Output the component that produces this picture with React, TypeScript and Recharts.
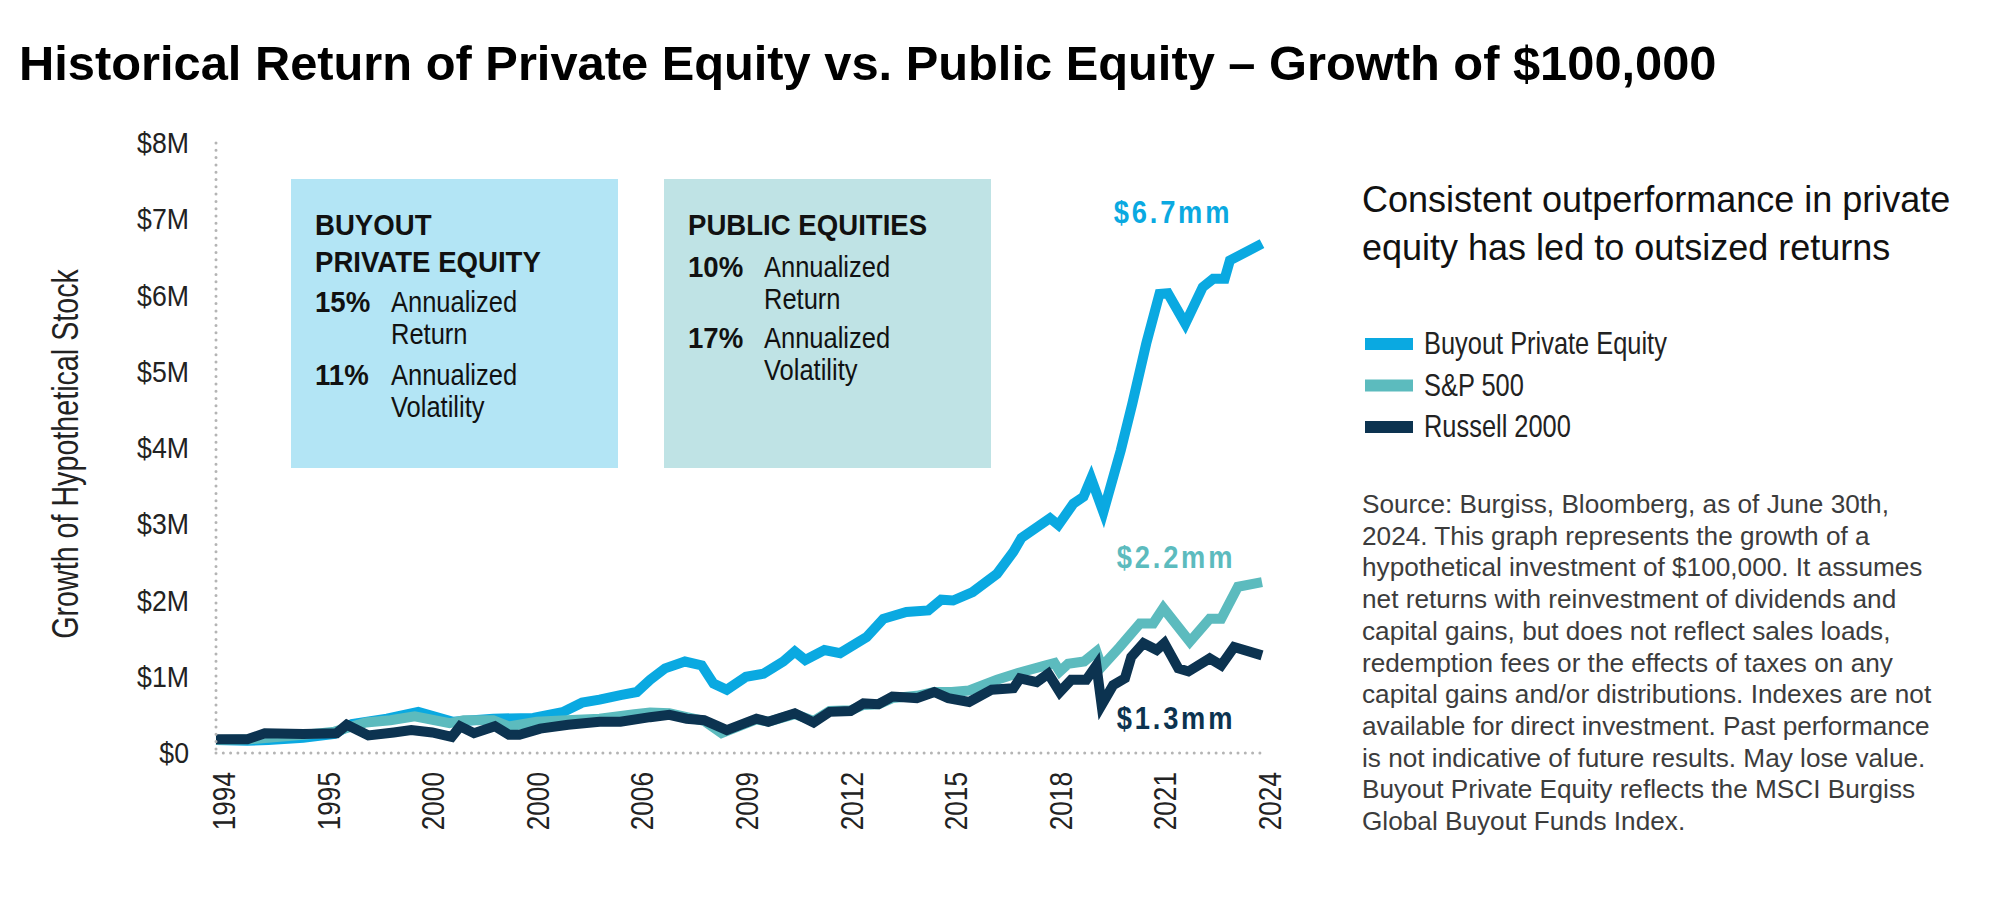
import React from 'react';
import { LineChart, Line, XAxis, YAxis, LabelList } from 'recharts';

// Growth of $100,000, in $ millions, read as [year, value]
const buyoutPE: [number, number][] = [
  [1994, 0.17], [1994.9, 0.16], [1995.5, 0.17], [1996.5, 0.2], [1997.4, 0.25],
  [1997.9, 0.38], [1998.9, 0.45], [1999.8, 0.54], [2000.8, 0.41], [2001.95, 0.45],
  [2003.1, 0.46], [2003.97, 0.54], [2004.5, 0.66], [2005.0, 0.7], [2005.6, 0.76],
  [2006.07, 0.8], [2006.45, 0.96], [2006.88, 1.11], [2007.45, 1.2], [2007.93, 1.15],
  [2008.27, 0.91], [2008.65, 0.83], [2009.2, 1.0], [2009.7, 1.04], [2010.27, 1.2],
  [2010.6, 1.33], [2010.9, 1.22], [2011.45, 1.35], [2011.9, 1.31], [2012.66, 1.52],
  [2013.14, 1.76], [2013.8, 1.85], [2014.43, 1.87], [2014.8, 2.01], [2015.14, 2.0],
  [2015.7, 2.11], [2016.4, 2.35], [2016.87, 2.64], [2017.1, 2.82], [2017.92, 3.08],
  [2018.16, 2.99], [2018.59, 3.27], [2018.88, 3.36], [2019.1, 3.6], [2019.45, 3.16],
  [2019.95, 3.97], [2020.28, 4.58], [2020.68, 5.37], [2021.06, 6.02], [2021.3, 6.03],
  [2021.8, 5.63], [2022.3, 6.11], [2022.6, 6.22], [2022.93, 6.22], [2023.08, 6.46],
  [2024, 6.68],
];

const sp500: [number, number][] = [
  [1994, 0.17], [1995.0, 0.18], [1996.0, 0.22], [1997.0, 0.26], [1997.4, 0.28],
  [1998.3, 0.4], [1999.0, 0.43], [1999.7, 0.48], [2000.7, 0.39], [2001.1, 0.43],
  [2001.95, 0.43], [2002.4, 0.35], [2003.2, 0.41], [2004.05, 0.43], [2005.0, 0.45],
  [2006.0, 0.51], [2006.45, 0.53], [2007.0, 0.52], [2007.5, 0.47], [2008.0, 0.42],
  [2008.5, 0.26], [2009.5, 0.44], [2009.84, 0.41], [2010.6, 0.51], [2011.14, 0.42],
  [2011.6, 0.55], [2012.2, 0.56], [2012.57, 0.63], [2013.0, 0.64], [2013.4, 0.72],
  [2014.1, 0.75], [2014.6, 0.8], [2015.1, 0.8], [2015.6, 0.82], [2016.4, 0.96],
  [2017.0, 1.05], [2017.8, 1.15], [2018.05, 1.18], [2018.2, 1.07], [2018.44, 1.17],
  [2018.9, 1.2], [2019.25, 1.33], [2019.4, 1.13], [2019.92, 1.39], [2020.5, 1.7],
  [2020.88, 1.7], [2021.17, 1.9], [2021.93, 1.46], [2022.5, 1.76], [2022.83, 1.76],
  [2023.31, 2.18], [2024, 2.24],
];

const russell2000: [number, number][] = [
  [1994, 0.18], [1994.9, 0.18], [1995.4, 0.26], [1996.5, 0.25], [1997.46, 0.26],
  [1997.75, 0.37], [1998.37, 0.23], [1999.1, 0.27], [1999.6, 0.3], [2000.2, 0.27],
  [2000.76, 0.21], [2001.0, 0.35], [2001.4, 0.26], [2002.0, 0.35], [2002.4, 0.24],
  [2002.7, 0.24], [2003.3, 0.32], [2004.1, 0.37], [2005.0, 0.41], [2005.6, 0.41],
  [2006.45, 0.47], [2007.0, 0.5], [2007.5, 0.45], [2008.0, 0.43], [2008.65, 0.3],
  [2009.5, 0.45], [2009.84, 0.41], [2010.6, 0.52], [2011.14, 0.4], [2011.6, 0.54],
  [2012.2, 0.55], [2012.57, 0.65], [2013.0, 0.64], [2013.4, 0.74], [2014.1, 0.72],
  [2014.6, 0.8], [2015.0, 0.72], [2015.6, 0.67], [2016.25, 0.83], [2016.87, 0.85],
  [2017.06, 0.98], [2017.54, 0.93], [2017.87, 1.04], [2018.2, 0.8], [2018.53, 0.96],
  [2018.96, 0.96], [2019.25, 1.15], [2019.4, 0.63], [2019.73, 0.89], [2020.07, 0.98],
  [2020.25, 1.26], [2020.6, 1.44], [2020.98, 1.35], [2021.2, 1.44], [2021.6, 1.11],
  [2021.89, 1.07], [2022.5, 1.24], [2022.83, 1.15], [2023.2, 1.39], [2024, 1.28],
];

const xTicks = [1994, 1997, 2000, 2003, 2006, 2009, 2012, 2015, 2018, 2021, 2024];
const xTickLabels = ['1994', '1995', '2000', '2000', '2006', '2009', '2012', '2015', '2018', '2021', '2024'];
const yTicks = [0, 1, 2, 3, 4, 5, 6, 7, 8];

const seriesNames = ['Buyout Private Equity', 'S&P 500', 'Russell 2000'];

const sourceLines = [
  'Source: Burgiss, Bloomberg, as of June 30th,',
  '2024. This graph represents the growth of a',
  'hypothetical investment of $100,000. It assumes',
  'net returns with reinvestment of dividends and',
  'capital gains, but does not reflect sales loads,',
  'redemption fees or the effects of taxes on any',
  'capital gains and/or distributions. Indexes are not',
  'available for direct investment. Past performance',
  'is not indicative of future results. May lose value.',
  'Buyout Private Equity reflects the MSCI Burgiss',
  'Global Buyout Funds Index.',
];

const SANS = "'Liberation Sans', Arial, Helvetica, sans-serif";

const COLORS = ['#0aa9e1', '#5cbbbe', '#0c3350'];
const dotted = { stroke: '#b4b4b4', strokeWidth: 3, strokeDasharray: '0 7.3', strokeLinecap: 'round' as const };

const toRows = (pts: [number, number][]) => pts.map(([year, value]) => ({ year, value }));

// condensed text: no narrow face is installed, so squeeze Liberation Sans horizontally
const NText = ({ x, y, size, scale = 0.82, weight = 400, anchor = 'start', fill = '#222', rotate = 0, ls = 0, children }: any) => (
  <g transform={`translate(${x},${y})${rotate ? ` rotate(${rotate})` : ''} scale(${scale},1)`}>
    <text x={0} y={0} fontFamily={SANS} fontSize={size} fontWeight={weight} textAnchor={anchor}
      fill={fill} letterSpacing={ls}>
      {children}
    </text>
  </g>
);

// end-of-line value callout, drawn only on the last point
const endLabel = (color: string, dx: number, dy: number, last: number) => (props: any) => {
  if (props.index !== last) return null;
  return (
    <NText x={props.x + dx} y={props.y + dy} size={31} scale={0.88} weight={700} anchor="middle" fill={color} ls={3.2}>
      {`$${Number(props.value).toFixed(1)}mm`}
    </NText>
  );
};

const XTick = ({ x, y, payload }: any) => (
  <NText x={x + 19} y={y + 19} rotate={-90} size={32} anchor="end" fill="#222">
    {xTickLabels[xTicks.indexOf(payload.value)]}
  </NText>
);

const YTick = ({ x, y, payload }: any) => (
  <NText x={x} y={y + 10} size={29} scale={0.92} anchor="end" fill="#222">
    {payload.value === 0 ? '$0' : `$${payload.value}M`}
  </NText>
);

const StatBox = ({ x, fill, heading, stats, y0, gap }: any) => (
  <g>
    <rect x={x} y={179} width={327} height={289} fill={fill} />
    {heading.map((h: string, i: number) => (
      <NText key={h} x={x + 24} y={235 + i * 37} size={30} scale={0.92} weight={700} fill="#111">{h}</NText>
    ))}
    {stats.map((s: string[], i: number) => (
      <g key={s[0]}>
        <NText x={x + 24} y={y0 + i * gap} size={30} scale={0.92} weight={700} fill="#111">{s[0]}</NText>
        <NText x={x + 100} y={y0 + i * gap} size={30} scale={0.85} fill="#111">{s[1]}</NText>
        <NText x={x + 100} y={y0 + i * gap + 32} size={30} scale={0.85} fill="#111">{s[2]}</NText>
      </g>
    ))}
  </g>
);

const App: React.FC = () => {
  const pe = toRows(buyoutPE);
  const sp = toRows(sp500);
  const ru = toRows(russell2000);

  return (
    <div style={{ position: 'absolute', left: 0, top: 0, width: 2000, height: 909, background: '#fff' }}>
      <svg width={2000} height={909} style={{ position: 'absolute', left: 0, top: 0 }}>
        <text x={19} y={80} fontFamily={SANS} fontWeight={700} fontSize={48.8} fill="#000">
          Historical Return of Private Equity vs. Public Equity – Growth of $100,000
        </text>
        <NText x={78} y={454} rotate={-90} size={37} scale={0.775} anchor="middle" fill="#222">
          Growth of Hypothetical Stock
        </NText>

        <StatBox x={291} fill="#b3e5f5" heading={['BUYOUT', 'PRIVATE EQUITY']} y0={312} gap={73}
          stats={[['15%', 'Annualized', 'Return'], ['11%', 'Annualized', 'Volatility']]} />
        <StatBox x={664} fill="#bfe3e5" heading={['PUBLIC EQUITIES']} y0={277} gap={71}
          stats={[['10%', 'Annualized', 'Return'], ['17%', 'Annualized', 'Volatility']]} />

        <text fontFamily={SANS} fontSize={36} fill="#111">
          <tspan x={1362} y={212}>Consistent outperformance in private</tspan>
          <tspan x={1362} y={260}>equity has led to outsized returns</tspan>
        </text>

        {seriesNames.map((name, i) => (
          <g key={name}>
            <rect x={1365} y={338 + i * 41.5} width={48} height={12} fill={COLORS[i]} />
            <NText x={1424} y={354 + i * 41.5} size={31} fill="#222">{name}</NText>
          </g>
        ))}

        <text fontFamily={SANS} fontSize={26.2} fill="#3c3c3c">
          {sourceLines.map((line, i) => (
            <tspan key={i} x={1362} y={513 + i * 31.7}>{line}</tspan>
          ))}
        </text>
      </svg>

      <LineChart width={2000} height={909} margin={{ top: 143, right: 738, bottom: 96, left: 156 }}
        style={{ position: 'absolute', left: 0, top: 0 }}>
        <XAxis type="number" dataKey="year" domain={[1994, 2024]} ticks={xTicks} interval={0}
          height={60} axisLine={dotted} tickLine={false} tickSize={0} tickMargin={0} tick={<XTick />} />
        <YAxis type="number" domain={[0, 8]} ticks={yTicks} interval={0} width={60}
          axisLine={dotted} tickLine={false} tickSize={0} tickMargin={27} tick={<YTick />} />
        <Line data={pe} dataKey="value" type="linear" stroke={COLORS[0]} strokeWidth={10}
          dot={false} activeDot={false} isAnimationActive={false}>
          <LabelList dataKey="value" content={endLabel(COLORS[0], -89, -21, pe.length - 1)} />
        </Line>
        <Line data={sp} dataKey="value" type="linear" stroke={COLORS[1]} strokeWidth={10}
          dot={false} activeDot={false} isAnimationActive={false}>
          <LabelList dataKey="value" content={endLabel(COLORS[1], -86, -14, sp.length - 1)} />
        </Line>
        <Line data={ru} dataKey="value" type="linear" stroke={COLORS[2]} strokeWidth={10}
          dot={false} activeDot={false} isAnimationActive={false}>
          <LabelList dataKey="value" content={endLabel(COLORS[2], -86, 74, ru.length - 1)} />
        </Line>
      </LineChart>
    </div>
  );
};

export default App;
